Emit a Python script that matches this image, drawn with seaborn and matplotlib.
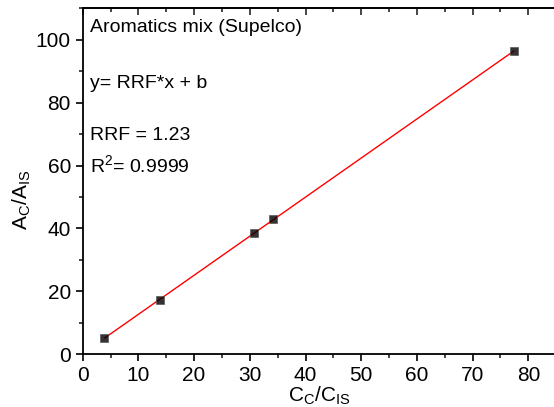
import numpy as np
import pandas as pd
import seaborn as sns
import matplotlib
matplotlib.use("Agg")
import matplotlib.pyplot as plt
from matplotlib.ticker import MultipleLocator

# data
conc_ratio = [3.9, 13.9, 30.7, 34.2, 77.4]
area_ratio = [5.1, 17.3, 38.5, 43.1, 96.3]
title_text = "Aromatics mix (Supelco)"
eq_text = "y= RRF*x + b"
rrf_text = "RRF = 1.23"
r2_text = "R$^2$= 0.9999"

df = pd.DataFrame({"x": conc_ratio, "y": area_ratio})

sns.set_theme(style="ticks")
plt.rcParams['font.family'] = ['Liberation Sans', 'DejaVu Sans']
plt.rcParams['mathtext.fontset'] = 'custom'
plt.rcParams['mathtext.rm'] = 'Liberation Sans'
plt.rcParams['mathtext.it'] = 'Liberation Sans'

fig = plt.figure(figsize=(5.54, 4.07), dpi=100)
ax = fig.add_axes([82.7/554, (407-354.3)/407, 473.5/554, 346/407])

sns.regplot(data=df, x="x", y="y", ax=ax, ci=None, marker="s",
            scatter_kws=dict(s=30, color="black", edgecolors="#555555", linewidths=0.6, zorder=3),
            line_kws=dict(color="red", lw=1.0, zorder=2))

ax.set_xlim(0, 85)
ax.set_ylim(0, 110)
ax.xaxis.set_major_locator(MultipleLocator(10))
ax.xaxis.set_minor_locator(MultipleLocator(5))
ax.yaxis.set_major_locator(MultipleLocator(20))
ax.yaxis.set_minor_locator(MultipleLocator(10))

for s in ax.spines.values():
    s.set_linewidth(1.3)
    s.set_color("black")

ax.tick_params(axis="both", which="major", length=5, width=1.2, labelsize=15,
               colors="black", labelcolor="black", direction="out")
ax.tick_params(axis="both", which="minor", length=3, width=1.2, direction="out")

# inward top ticks via secondary axis
sec = ax.secondary_xaxis("top")
sec.xaxis.set_major_locator(MultipleLocator(10))
sec.xaxis.set_minor_locator(MultipleLocator(5))
sec.tick_params(axis="x", which="major", direction="in", length=5, width=1.2, labeltop=False)
sec.tick_params(axis="x", which="minor", direction="in", length=3, width=1.2)
sec.spines["top"].set_linewidth(1.3)
ax.tick_params(axis="x", which="both", top=False)

ax.set_xlabel("C$_\\mathregular{C}$/C$_\\mathregular{IS}$", fontsize=15, color="black")
ax.set_ylabel("A$_\\mathregular{C}$/A$_\\mathregular{IS}$", fontsize=15, color="black")
ax.xaxis.set_label_coords(0.5, -0.088)
ax.yaxis.set_label_coords(-0.105, 0.446)

def px(xp, yp):
    return ((xp - 82.7) / 473.5, (354.3 - yp) / 346)

for t, yb in [(title_text, 31.7), (eq_text, 88), (rrf_text, 140), (r2_text, 172)]:
    xa, ya = px(90, yb)
    ax.text(xa, ya, t, transform=ax.transAxes, fontsize=14, ha="left", va="baseline", color="black")

fig.savefig("out.png", dpi=100)
